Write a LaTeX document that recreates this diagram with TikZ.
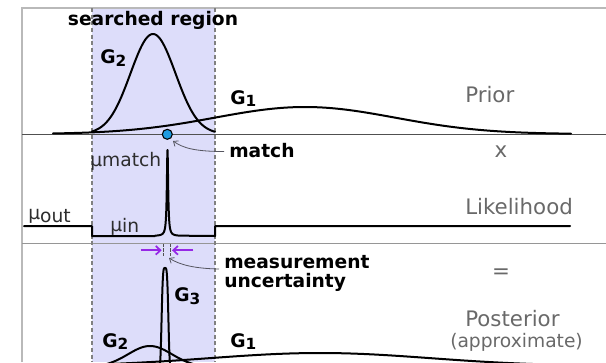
\documentclass[tikz,border=0pt]{standalone}
\usepackage{fontspec}
\setmainfont{DejaVu Sans}
\usetikzlibrary{arrows.meta}
\definecolor{regionfill}{RGB}{221,221,250}
\definecolor{framegray}{RGB}{185,185,185}
\definecolor{sepdark}{RGB}{80,80,80}
\definecolor{seplight}{RGB}{150,150,150}
\definecolor{labelgray}{RGB}{105,105,105}
\definecolor{mugray}{RGB}{45,45,45}
\definecolor{dotblue}{RGB}{30,155,225}
\definecolor{arrowviolet}{RGB}{150,40,230}
\definecolor{pointergray}{RGB}{85,85,95}
\newcommand{\Glab}[1]{{\fontsize{14}{16}\selectfont\bfseries G\raisebox{-2pt}{\fontsize{11.5}{13}\selectfont #1}}}
\begin{document}
\begin{tikzpicture}[x=0.75pt,y=-0.75pt,
  curve/.style={line width=1.5pt, line join=round, line cap=round},
  txt/.style={inner sep=0pt, anchor=base west},
  boldtxt/.style={txt, font=\fontsize{14}{14.25}\selectfont\bfseries},
  graytxt/.style={txt, text=labelgray, font=\fontsize{16}{18}\selectfont},
  mutxt/.style={txt, text=mugray, font=\fontsize{14}{16}\selectfont},
  regionline/.style={draw=gray, line width=0.8pt, dash pattern=on 3pt off 2pt},
  pointer/.style={draw=pointergray, line width=0.6pt, -{Straight Barb[length=3pt,width=5pt]}},
  violetarrow/.style={draw=arrowviolet, line width=1.3pt, -{Straight Barb[length=3.5pt,width=6.5pt]}},
  tick/.style={draw=sepdark, line width=0.5pt, dash pattern=on 2.5pt off 1pt}
]
\useasboundingbox (0,0) rectangle (606,362);
\clip (0,0) rectangle (606,362);

% searched region
\fill[regionfill] (92,8) rectangle (215,362);

% frame and separators
\draw[framegray, line width=1.1pt] (22,362) -- (22,8) -- (606,8);
\draw[sepdark, line width=0.7pt] (22,134) -- (606,134);
\draw[seplight, line width=0.9pt] (22,243.5) -- (606,243.5);

% region borders
\draw[regionline] (92,8) -- (92,362);
\draw[regionline] (215,8) -- (215,362);

% title
\node[boldtxt, anchor=base] (title) at (153,25.5) {searched region};

% ---- Prior ----
\draw[curve] plot[domain=92:215, samples=120] (\x,{134-100*exp(-0.5*((\x-153)/22.5)*((\x-153)/22.5))});
\draw[curve] plot[domain=53:571, samples=160] (\x,{134-27*exp(-0.5*((\x-305)/90)*((\x-305)/90))});
\node[txt] (G2prior) at (100,63.5) {\Glab{2}};
\node[txt] (G1prior) at (230,104) {\Glab{1}};
\node[graytxt] (prior) at (465,102.7) {Prior};

\node[circle, fill=dotblue, draw=black, line width=0.8pt, minimum size=7.5pt, inner sep=0pt] (dot) at (167.3,134.3) {};
\node[boldtxt] (match) at (229,157.5) {match};
\coordinate (matchTail) at (224,151.5);
\coordinate (matchTip) at (173,141);
\draw[pointer] (matchTail) .. controls (195,151.5) and (183,148) .. (matchTip);

\node[graytxt, anchor=base] (times) at (501,157) {x};

% ---- Likelihood ----
\draw[curve] (24,226) -- (92,226) -- (92,236) -- (155,236)
  -- plot[domain=155:180, samples=201] (\x,{236-86/(1+((\x-167.5)/0.8)*((\x-167.5)/0.8))})
  -- (215,236) -- (215,226) -- (570,226);
\node[mutxt] (mumatch) at (90,166.5) {μmatch};
\node[mutxt] (muout) at (28,222.5) {\raisebox{2pt}{μ}out};
\node[mutxt] (muin) at (110,232.5) {\raisebox{1pt}{μ}in};
\node[graytxt] (likelihood) at (465,214.3) {Likelihood};

% measurement uncertainty
\draw[tick] (163.3,243.5) -- (163.3,256);
\draw[tick] (170.7,243.5) -- (170.7,256);
\coordinate (leftTail) at (140.7,250.3);
\coordinate (leftTip) at (161.7,250.3);
\coordinate (rightTail) at (193.3,250.3);
\coordinate (rightTip) at (172,250.3);
\draw[violetarrow] (leftTail) -- (leftTip);
\draw[violetarrow] (rightTail) -- (rightTip);
\node[boldtxt] (meas1) at (224,268) {measurement};
\node[boldtxt] (meas2) at (224,287) {uncertainty};
\coordinate (measTail) at (219,269);
\coordinate (measTip) at (169,258);
\draw[pointer] (measTail) .. controls (195,268.5) and (180,265) .. (measTip);

\node[graytxt, anchor=base] (equals) at (501,278) {=};

% ---- Posterior ----
\draw[curve] plot[domain=92:215, samples=120] (\x,{367-21*exp(-0.5*((\x-150)/22)*((\x-150)/22))});
\draw[curve] plot[domain=110:606, samples=160] (\x,{366-13*exp(-0.5*((\x-320)/110)*((\x-320)/110))});
\draw[curve] plot[domain=157:173, samples=65] (\x,{367-99*exp(-(((\x-165)/3.7)*((\x-165)/3.7))*(((\x-165)/3.7)*((\x-165)/3.7)))});
\node[txt] (G3post) at (174,301.7) {\Glab{3}};
\node[txt] (G2post) at (102,347) {\Glab{2}};
\node[txt] (G1post) at (230,347) {\Glab{1}};
\node[graytxt] (posterior) at (465,326) {Posterior};
\node[txt, text=labelgray, font=\fontsize{14}{16}\selectfont] (approx) at (450,347.5) {(approximate)};
\end{tikzpicture}
\end{document}
